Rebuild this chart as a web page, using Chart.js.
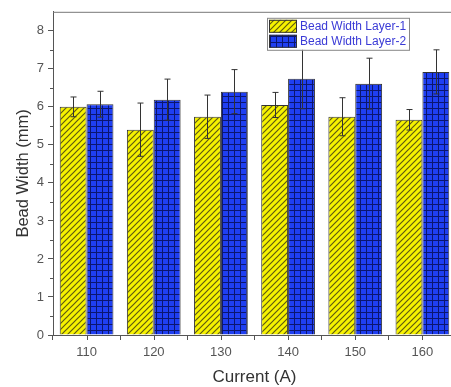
<!DOCTYPE html>
<html>
<head>
<meta charset="utf-8">
<script src="https://cdn.jsdelivr.net/npm/chart.js@4"></script>
<style>
  html, body { margin: 0; padding: 0; background: #fff; overflow: hidden; }
  #wrap { width: 451px; height: 387px; overflow: hidden; }
</style>
</head>
<body>
<div id="wrap"><canvas id="chart" width="470" height="387"></canvas></div>
<script>
// dados
const currents = ['110', '120', '130', '140', '150', '160'];
const layer1 = [6.00, 5.40, 5.74, 6.05, 5.74, 5.66];
const layer2 = [6.07, 6.19, 6.40, 6.74, 6.61, 6.92];
const err1 = [0.26, 0.70, 0.57, 0.33, 0.50, 0.27];
const err2 = [0.34, 0.54, 0.58, 0.79, 0.67, 0.58];
const yTicks = [0, 1, 2, 3, 4, 5, 6, 7, 8];

function makePattern(kind) {
    const c = document.createElement('canvas');
    c.width = 6; c.height = 6;
    const g = c.getContext('2d');
    if (kind === 'hatch') {
        g.fillStyle = '#f6f200';
        g.fillRect(0, 0, 6, 6);
        g.strokeStyle = '#5e5a10';
        g.lineWidth = 1.2;
        g.beginPath();
        g.moveTo(-1, 7); g.lineTo(7, -1);
        g.moveTo(-1, 1); g.lineTo(1, -1);
        g.moveTo(5, 7); g.lineTo(7, 5);
        g.stroke();
    } else {
        g.fillStyle = '#1f3ff2';
        g.fillRect(0, 0, 6, 6);
        g.strokeStyle = '#0b1670';
        g.lineWidth = 1;
        g.beginPath();
        g.moveTo(0.5, 0); g.lineTo(0.5, 6);
        g.moveTo(0, 0.5); g.lineTo(6, 0.5);
        g.stroke();
    }
    return g.createPattern(c, 'repeat');
}

const ctx = document.getElementById('chart').getContext('2d');
const hatch = makePattern('hatch');
const grid = makePattern('grid');

// barras de erro simétricas
const errorBars = {
    id: 'errorBars',
    afterDatasetsDraw(chart) {
        const c = chart.ctx;
        const y = chart.scales.y;
        c.save();
        c.strokeStyle = '#333';
        c.lineWidth = 1;
        chart.data.datasets.forEach((ds, i) => {
            const meta = chart.getDatasetMeta(i);
            meta.data.forEach((bar, j) => {
                const v = ds.data[j], e = ds.errors[j];
                const top = y.getPixelForValue(v + e);
                const bot = y.getPixelForValue(v - e);
                const x = Math.round(bar.x) + 0.5;
                c.beginPath();
                c.moveTo(x, top); c.lineTo(x, bot);
                c.moveTo(x - 3, top); c.lineTo(x + 3, top);
                c.moveTo(x - 3, bot); c.lineTo(x + 3, bot);
                c.stroke();
            });
        });
        c.restore();
    }
};

// moldura, ticks menores e legenda
const frame = {
    id: 'frame',
    afterDraw(chart) {
        const c = chart.ctx;
        const a = chart.chartArea;
        const x = chart.scales.x, y = chart.scales.y;
        c.save();
        c.strokeStyle = '#777';
        c.lineWidth = 1;
        c.beginPath();
        c.moveTo(a.left, a.top + 0.5); c.lineTo(a.right, a.top + 0.5);
        c.moveTo(a.right - 0.5, a.top); c.lineTo(a.right - 0.5, a.bottom);
        c.stroke();
        c.strokeStyle = '#555';
        c.beginPath();
        for (let v = 0.5; v < 8.5; v += 1) {
            const py = Math.round(y.getPixelForValue(v)) + 0.5;
            c.moveTo(a.left - 3, py); c.lineTo(a.left, py);
        }
        currents.forEach((_, i) => {
            const px = Math.round(x.getPixelForValue(i)) + 0.5;
            c.moveTo(px, a.bottom); c.lineTo(px, a.bottom + 5);
        });
        c.stroke();

        // legenda
        const lx = a.left + 214, ly = a.top + 6;
        c.fillStyle = '#fff';
        c.fillRect(lx, ly, 142, 32);
        c.strokeStyle = '#888';
        c.strokeRect(lx + 0.5, ly + 0.5, 142, 32);
        const items = [[hatch, 'Bead Width Layer-1'], [grid, 'Bead Width Layer-2']];
        c.font = '12px "Liberation Sans", Arial, sans-serif';
        c.textBaseline = 'middle';
        items.forEach(([pat, label], i) => {
            const sy = ly + 2 + i * 15;
            c.fillStyle = pat;
            c.fillRect(lx + 2, sy, 28, 13);
            c.strokeStyle = '#333';
            c.strokeRect(lx + 2.5, sy + 0.5, 27, 12);
            c.fillStyle = '#3a3ad6';
            c.fillText(label, lx + 33, sy + 7);
        });
        c.restore();
    }
};

new Chart(ctx, {
    type: 'bar',
    data: {
        labels: currents,
        datasets: [
            {
                label: 'Bead Width Layer-1',
                data: layer1,
                errors: err1,
                backgroundColor: hatch,
                borderColor: '#333',
                borderWidth: 1,
                categoryPercentage: 0.8,
                barPercentage: 1.0
            },
            {
                label: 'Bead Width Layer-2',
                data: layer2,
                errors: err2,
                backgroundColor: grid,
                borderColor: '#333',
                borderWidth: 1,
                categoryPercentage: 0.8,
                barPercentage: 1.0
            }
        ]
    },
    options: {
        responsive: false,
        animation: false,
        layout: { padding: { top: 8, right: 14, left: 0, bottom: 0 } },
        plugins: {
            legend: { display: false },
            tooltip: { enabled: false }
        },
        scales: {
            x: {
                grid: { drawOnChartArea: false, offset: true, tickLength: 5, color: '#555' },
                border: { color: '#555' },
                ticks: { color: '#555', padding: 5, font: { size: 13, family: '"Liberation Sans", Arial, sans-serif' } },
                title: {
                    display: true, text: 'Current (A)', color: '#333',
                    font: { size: 17, lineHeight: 1.1, family: '"Liberation Sans", Arial, sans-serif' },
                    padding: { top: 0, bottom: 0 }
                },
                afterFit(s) { s.height = 52; }
            },
            y: {
                min: 0,
                max: 8.5,
                afterBuildTicks(s) { s.ticks = yTicks.map(v => ({ value: v })); },
                grid: { drawOnChartArea: false, tickLength: 5, color: '#555' },
                border: { color: '#555' },
                ticks: { color: '#555', padding: 4, font: { size: 13, family: '"Liberation Sans", Arial, sans-serif' } },
                title: {
                    display: true, text: 'Bead Width (mm)', color: '#333',
                    font: { size: 16.5, family: '"Liberation Sans", Arial, sans-serif' },
                    padding: { top: 14, bottom: 0 }
                },
                afterFit(s) { s.width = 53; }
            }
        }
    },
    plugins: [errorBars, frame]
});
</script>
</body>
</html>
